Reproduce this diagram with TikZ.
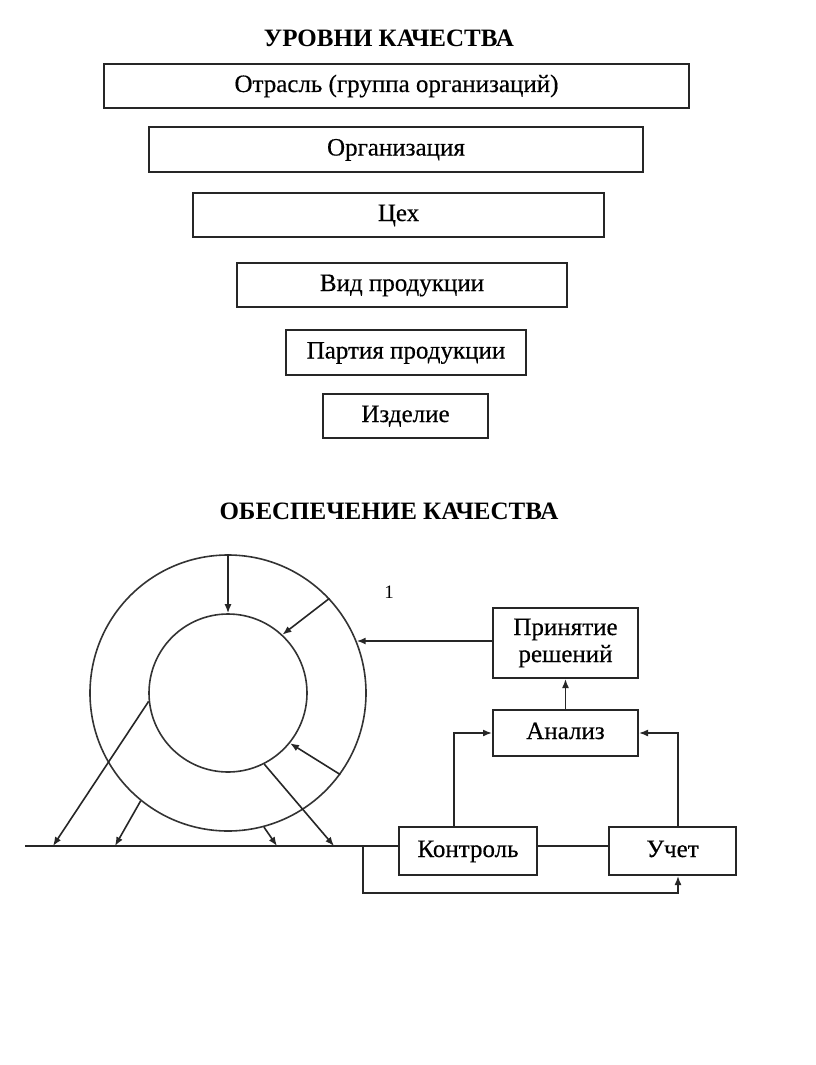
\documentclass[tikz,border=0pt]{standalone}
\usepackage{fontspec}
\setmainfont{Liberation Serif}
\usetikzlibrary{arrows.meta,calc}
\begin{document}
\begin{tikzpicture}[x=1pt,y=-1pt,
  lbl/.style={font=\fontsize{25}{27}\selectfont\addfontfeature{FakeBold=0.4}},
  ttl/.style={font=\fontsize{25}{27}\selectfont\bfseries},
  box/.style={draw=black!85, line width=2pt, inner sep=0pt, lbl, align=center},
  one/.style={text height=17pt, text depth=5pt},
  ring/.style={draw=black!80, line width=1.6pt, circle, inner sep=0pt},
  ln/.style={draw=black!85, line width=1.6pt},
  arr/.style={ln, -{Latex[length=9pt,width=7pt]}}]
\useasboundingbox[fill=white] (0,0) rectangle (816,1065);

% --- Levels of quality ---
\node[ttl] (t1) at (389,38) {УРОВНИ КАЧЕСТВА};
\node[box, one, minimum width=585, minimum height=43] (b1) at (396.5,86) {Отрасль (группа организаций)};
\node[box, one, minimum width=494, minimum height=45] (b2) at (396,149.5) {Организация};
\node[box, one, minimum width=411, minimum height=44] (b3) at (398.5,215) {Цех};
\node[box, one, minimum width=330, minimum height=44] (b4) at (402,285) {Вид продукции};
\node[box, one, minimum width=240, minimum height=45] (b5) at (406,352.5) {Партия продукции};
\node[box, one, minimum width=165, minimum height=44] (b6) at (405.5,416) {Изделие};

% --- Quality assurance ---
\node[ttl] (t2) at (389,511) {ОБЕСПЕЧЕНИЕ КАЧЕСТВА};
\node[ring, minimum size=276] (outer) at (228,693) {};
\node[ring, minimum size=158] (inner) at (228,693) {};
\node[font=\fontsize{19}{21}\selectfont] (one) at (389,592) {1};

\node[box, minimum width=145, minimum height=70] (pr) at (565.5,643) {Принятие\\решений};
\node[box, one, minimum width=145, minimum height=46] (an) at (565.5,733) {Анализ};
\node[box, one, minimum width=138, minimum height=48] (ko) at (468,851) {Контроль};
\node[box, one, minimum width=127, minimum height=48] (uc) at (672.5,851) {Учет};

% baseline
\coordinate (bl) at (25,846);
\coordinate (q1) at (53,846);
\coordinate (q2) at (115,846);
\coordinate (q3) at (277,846);
\coordinate (q4) at (334,846);
\coordinate (jn) at (363,846);
\draw[ln] (bl) -- (ko.west |- bl);
\draw[ln] (ko.east |- bl) -- (uc.west |- bl);

% ring arrows
\draw[arr] (outer.90) -- (inner.90);
\draw[arr] (outer.43) -- (inner.47);
\draw[arr] (outer.-36) -- (inner.-39);
\draw[arr] (pr.west |- outer.22) -- (outer.22);
\draw[arr] (inner.186) -- (q1);
\draw[arr] (outer.231) -- (q2);
\draw[arr] (outer.-75) -- (q3);
\draw[arr] (inner.-63) -- (q4);

% right block
\draw[arr] (an.north) -- (pr.south);
\draw[arr] ([xshift=-14pt]ko.north) |- (an.west);
\draw[arr] ([xshift=5.5pt]uc.north) |- (an.east);
\draw[arr] (jn) -- ++(0,47) -| ([xshift=5.5pt]uc.south);
\end{tikzpicture}
\end{document}
